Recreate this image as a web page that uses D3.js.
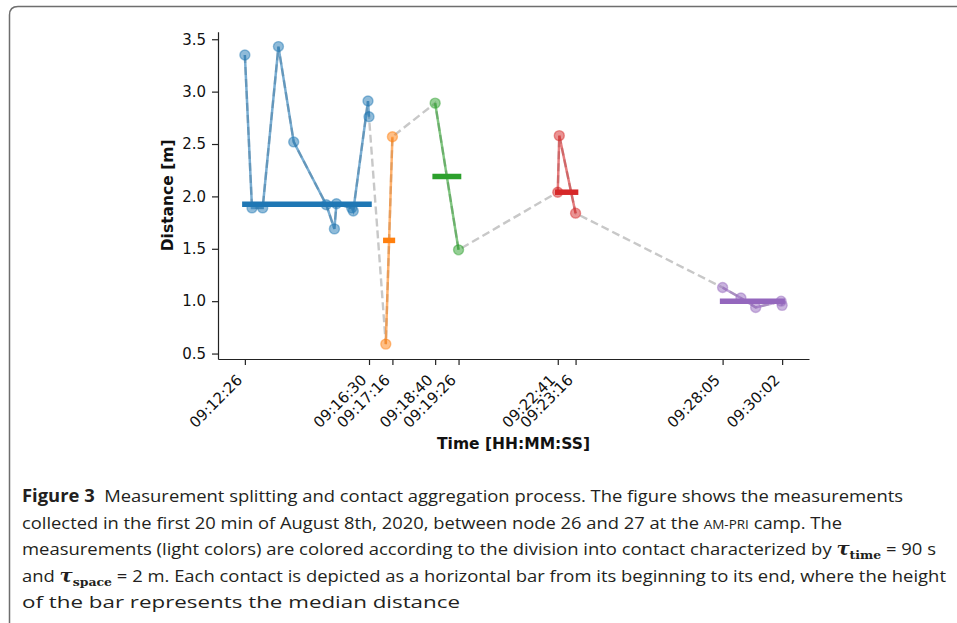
<!DOCTYPE html>
<html>
<head>
<meta charset="utf-8">
<script src="https://cdn.jsdelivr.net/npm/d3@7"></script>
<style>
  html, body { margin: 0; padding: 0; background: #fff; }
  svg { display: block; }
</style>
</head>
<body>
<svg id="fig" width="957" height="623"></svg>
<script>
// Measurement timestamps (HH:MM:SS) and measured distances, in order
const times = [
  "09:12:26", "09:12:40", "09:13:01", "09:13:32", "09:14:02", "09:15:06",
  "09:15:22", "09:15:26", "09:15:56", "09:15:59", "09:16:28", "09:16:30",
  "09:17:03", "09:17:16",
  "09:18:40", "09:19:26",
  "09:22:41", "09:22:44", "09:23:16",
  "09:28:05", "09:28:41", "09:29:10", "09:30:00", "09:30:02"
];
const distances = [
  3.35, 1.89, 1.89, 3.43, 2.52, 1.92,
  1.69, 1.93, 1.89, 1.86, 2.91, 2.76,
  0.59, 2.57,
  2.89, 1.49,
  2.04, 2.58, 1.84,
  1.13, 1.03, 0.94, 1.00, 0.96
];
// Contact index each measurement belongs to
const contactOf = [
  0, 0, 0, 0, 0, 0, 0, 0, 0, 0, 0, 0,
  1, 1,
  2, 2,
  3, 3, 3,
  4, 4, 4, 4, 4
];
const contactColors = ["#1f77b4", "#ff7f0e", "#2ca02c", "#d62728", "#9467bd"];
const yTicks = [0.5, 1.0, 1.5, 2.0, 2.5, 3.0, 3.5];
const xTickLabels = ["09:12:26", "09:16:30", "09:17:16", "09:18:40", "09:19:26",
                     "09:22:41", "09:23:16", "09:28:05", "09:30:02"];

const parse = d3.timeParse("%H:%M:%S");
const points = times.map((t, i) => ({ t: parse(t), d: distances[i], c: contactOf[i] }));

// Group into contacts: extent in time and median distance
const contacts = d3.groups(points, p => p.c).map(([c, pts]) => ({
  c, pts,
  start: d3.min(pts, p => p.t),
  end: d3.max(pts, p => p.t),
  median: d3.median(pts, p => p.d)
}));

const svg = d3.select("#fig");

// Outer figure frame with rounded top-left corner
svg.append("path")
  .attr("d", "M9.5,623 L9.5,15 Q9.5,6.5 18,6.5 L957,6.5")
  .attr("fill", "none").attr("stroke", "#6e6e6e").attr("stroke-width", 1.5);

// Scales with 5% padding around the data
const tExt = d3.extent(points, p => p.t);
const tPad = (tExt[1] - tExt[0]) * 0.05;
const x = d3.scaleTime()
  .domain([new Date(+tExt[0] - tPad), new Date(+tExt[1] + tPad)])
  .range([218, 809]);
const dExt = d3.extent(points, p => p.d);
const dPad = (dExt[1] - dExt[0]) * 0.05;
const y = d3.scaleLinear()
  .domain([dExt[0] - dPad, dExt[1] + dPad])
  .range([359, 31.7]);

const font = "'DejaVu Sans', sans-serif";

// Axes
const yAxis = svg.append("g").attr("transform", "translate(218,0)")
  .call(d3.axisLeft(y).tickValues(yTicks).tickFormat(d3.format(".1f"))
    .tickSize(6).tickSizeOuter(0).tickPadding(6));
const xAxis = svg.append("g").attr("transform", "translate(0,359)")
  .call(d3.axisBottom(x).tickValues(xTickLabels.map(parse))
    .tickFormat(d3.timeFormat("%H:%M:%S")).tickSize(6).tickSizeOuter(0));
[yAxis, xAxis].forEach(a => {
  a.select(".domain").attr("stroke", "#222").attr("stroke-width", 1.2);
  a.selectAll(".tick line").attr("stroke", "#222").attr("stroke-width", 1.2);
  a.selectAll(".tick text").attr("font-family", font).attr("font-size", 15).attr("fill", "#111");
});
xAxis.selectAll(".tick text")
  .attr("text-anchor", "end")
  .attr("dy", 0).attr("y", 0)
  .attr("transform", "translate(-2,22) rotate(-45)");

// Axis titles
svg.append("text")
  .attr("transform", "translate(173,195.4) rotate(-90)")
  .attr("text-anchor", "middle")
  .attr("font-family", font).attr("font-weight", "bold").attr("font-size", 15.5)
  .attr("fill", "#111")
  .text("Distance [m]");
svg.append("text")
  .attr("x", 513.5).attr("y", 449)
  .attr("text-anchor", "middle")
  .attr("font-family", font).attr("font-weight", "bold").attr("font-size", 15.5)
  .attr("fill", "#111")
  .text("Time [HH:MM:SS]");

// All measurements as one grey dashed trace
const line = d3.line().x(p => x(p.t)).y(p => y(p.d));
svg.append("path")
  .datum(points)
  .attr("d", line)
  .attr("fill", "none").attr("stroke", "#c8c8c8")
  .attr("stroke-width", 2.4).attr("stroke-dasharray", "8,4");

// Per-contact coloured traces and markers
const cg = svg.selectAll("g.contact").data(contacts).join("g").attr("class", "contact");
cg.append("path")
  .attr("d", c => line(c.pts))
  .attr("fill", "none")
  .attr("stroke", c => contactColors[c.c])
  .attr("stroke-opacity", 0.6).attr("stroke-width", 2.5);
cg.selectAll("circle").data(c => c.pts).join("circle")
  .attr("cx", p => x(p.t)).attr("cy", p => y(p.d)).attr("r", 5)
  .attr("fill", p => contactColors[p.c]).attr("fill-opacity", 0.5)
  .attr("stroke", p => contactColors[p.c]).attr("stroke-opacity", 0.45).attr("stroke-width", 1.4);

// Contact bars at the median distance
svg.selectAll("line.bar").data(contacts).join("line").attr("class", "bar")
  .attr("x1", c => x(c.start)).attr("x2", c => x(c.end))
  .attr("y1", c => y(c.median)).attr("y2", c => y(c.median))
  .attr("stroke", c => contactColors[c.c])
  .attr("stroke-width", 5.5).attr("stroke-linecap", "square");

// Caption
const capFont = "'Open Sans', 'Noto Sans', sans-serif";
const cap = svg.append("g").attr("font-family", capFont).attr("font-size", 17).attr("fill", "#231f20");
const serif = "'DejaVu Serif', 'Liberation Serif', serif";
function capLine(yPos, width, parts) {
  const t = cap.append("text").attr("x", 22).attr("y", yPos)
    .attr("xml:space", "preserve");
  if (width) t.attr("textLength", width).attr("lengthAdjust", "spacingAndGlyphs");
  parts.forEach(p => {
    const s = t.append("tspan").text(p.text);
    if (p.bold) s.attr("font-weight", "bold");
    if (p.tau) s.attr("font-family", serif).attr("font-style", "italic")
      .attr("font-weight", "bold").attr("font-size", 18);
    if (p.sub) s.attr("font-family", serif).attr("font-weight", "bold").attr("font-size", 11.5).attr("dy", 4);
    if (p.up) s.attr("dy", -4);
    if (p.sc) s.attr("font-size", 12.5);
  });
}
capLine(502.3, 881, [
  { text: "Figure 3", bold: true },
  { text: "  Measurement splitting and contact aggregation process. The figure shows the measurements" }
]);
capLine(528.7, 820, [
  { text: "collected in the first 20 min of August 8th, 2020, between node 26 and 27 at the " },
  { text: "AM-PRI", sc: true },
  { text: " camp. The" }
]);
capLine(555, 914, [
  { text: "measurements (light colors) are colored according to the division into contact characterized by " },
  { text: "τ", tau: true },
  { text: "time", sub: true },
  { text: " = 90 s", up: true }
]);
capLine(581.7, 924, [
  { text: "and " },
  { text: "τ", tau: true },
  { text: "space", sub: true },
  { text: " = 2 m. Each contact is depicted as a horizontal bar from its beginning to its end, where the height", up: true }
]);
capLine(607.7, 438, [
  { text: "of the bar represents the median distance" }
]);
</script>
</body>
</html>
